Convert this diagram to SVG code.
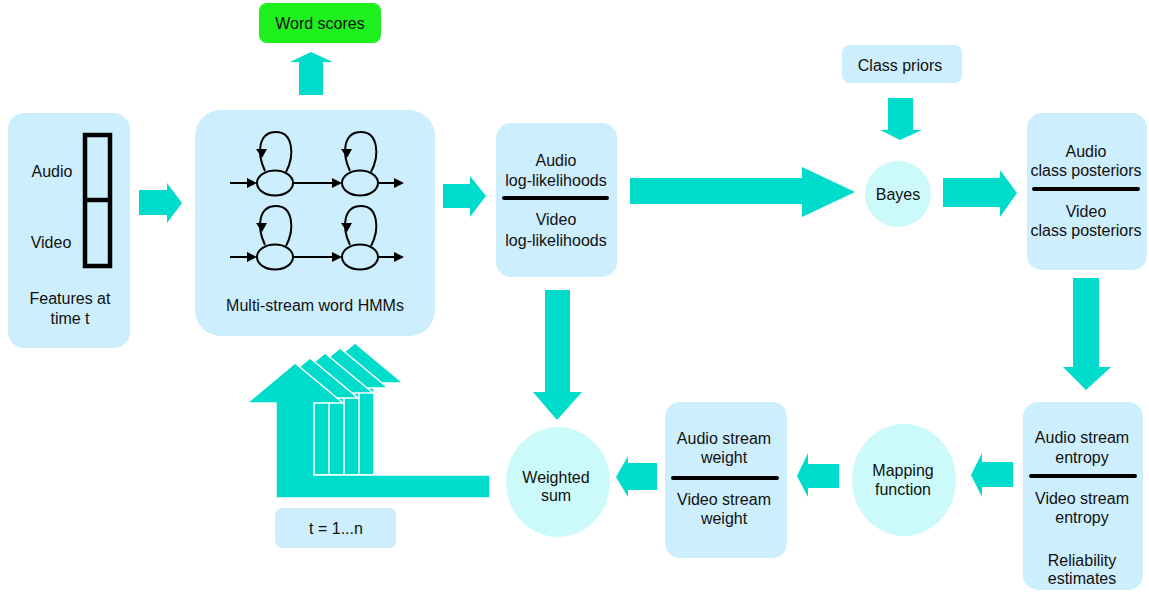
<svg xmlns="http://www.w3.org/2000/svg" width="1149" height="593" viewBox="0 0 1149 593">
<style>
.box{fill:#cdeefc}
.circ{fill:#ccfafa}
.arr{fill:#00dccb}
.t{font-family:"Liberation Sans",Arial,sans-serif;font-size:16px;fill:#111;text-anchor:middle;dominant-baseline:central}
.sep{stroke:#000;stroke-width:4;stroke-linecap:round}
.hmm{fill:none;stroke:#000;stroke-width:2}
.tip{fill:#000}
</style>
<rect width="1149" height="593" fill="#fff"/>

<g id="features">
<rect class="box" x="8" y="113" width="122" height="235" rx="16"/>
<rect x="85" y="135" width="25" height="131" fill="none" stroke="#000" stroke-width="4.5"/>
<line x1="85" y1="200" x2="110" y2="200" stroke="#000" stroke-width="4.5"/>
<text class="t" x="52" y="171">Audio</text>
<text class="t" x="51" y="242">Video</text>
<text class="t" x="70" y="298">Features at</text>
<text class="t" x="70" y="318">time t</text>
</g>

<g id="hmm">
<rect class="box" x="195" y="110" width="240" height="226" rx="26"/>
<g id="hmm-drawing">
<ellipse class="hmm" cx="275" cy="183" rx="18" ry="12.5"/>
<ellipse class="hmm" cx="360" cy="183" rx="18" ry="12.5"/>
<ellipse class="hmm" cx="275" cy="257" rx="18" ry="12.5"/>
<ellipse class="hmm" cx="360" cy="257" rx="18" ry="12.5"/>
<path class="hmm" d="M230 183H248M293 183H333M378 183H395M230 257H248M293 257H333M378 257H395"/>
<path class="tip" d="M257 183l-10 -5v10zM342 183l-10 -5v10zM404 183l-10 -5v10zM257 257l-10 -5v10zM342 257l-10 -5v10zM404 257l-10 -5v10z"/>
<path class="hmm" d="M265 171C256 152 259 132 276 132C293 132 295 155 286 172M350 171C341 152 344 132 361 132C378 132 380 155 371 172M265 245C256 226 259 206 276 206C293 206 295 229 286 246M350 245C341 226 344 206 361 206C378 206 380 229 371 246"/>
<path class="tip" d="M262 158l-6 -9h11zM347 158l-6 -9h11zM262 232l-6 -9h11zM347 232l-6 -9h11z"/>
</g>
<text class="t" x="315" y="305">Multi-stream word HMMs</text>
</g>

<g id="word-scores">
<rect x="259" y="3" width="122" height="40" rx="8" fill="#1ef01e"/>
<text class="t" x="320" y="23">Word scores</text>
</g>

<g id="loglik">
<rect class="box" x="496" y="123" width="121" height="154" rx="15"/>
<text class="t" x="556" y="160">Audio</text>
<text class="t" x="556" y="180">log-likelihoods</text>
<line class="sep" x1="504" y1="198" x2="607" y2="198"/>
<text class="t" x="556" y="219">Video</text>
<text class="t" x="556" y="240">log-likelihoods</text>
</g>

<g id="class-priors">
<rect class="box" x="842" y="45" width="120" height="38" rx="8"/>
<text class="t" x="900" y="65">Class priors</text>
</g>

<g id="bayes">
<ellipse class="circ" cx="898" cy="194" rx="33" ry="33"/>
<text class="t" x="898" y="194">Bayes</text>
</g>

<g id="posteriors">
<rect class="box" x="1027" y="113" width="120" height="157" rx="15"/>
<text class="t" x="1086" y="151">Audio</text>
<text class="t" x="1086" y="170">class posteriors</text>
<line class="sep" x1="1034" y1="189" x2="1138" y2="189"/>
<text class="t" x="1086" y="211">Video</text>
<text class="t" x="1086" y="230">class posteriors</text>
</g>

<g id="entropy">
<rect class="box" x="1023" y="402" width="120" height="188" rx="15"/>
<text class="t" x="1082" y="437">Audio stream</text>
<text class="t" x="1082" y="457">entropy</text>
<line class="sep" x1="1031" y1="476" x2="1135" y2="476"/>
<text class="t" x="1082" y="498">Video stream</text>
<text class="t" x="1082" y="517">entropy</text>
<text class="t" x="1082" y="560">Reliability</text>
<text class="t" x="1082" y="578">estimates</text>
</g>

<g id="mapping">
<ellipse class="circ" cx="904" cy="480" rx="52" ry="56"/>
<text class="t" x="903" y="470">Mapping</text>
<text class="t" x="903" y="489">function</text>
</g>

<g id="weights">
<rect class="box" x="665" y="402" width="122" height="156" rx="15"/>
<text class="t" x="724" y="438">Audio stream</text>
<text class="t" x="724" y="457">weight</text>
<line class="sep" x1="673" y1="478" x2="777" y2="478"/>
<text class="t" x="724" y="499">Video stream</text>
<text class="t" x="724" y="518">weight</text>
</g>

<g id="weighted-sum">
<ellipse class="circ" cx="558" cy="482" rx="52" ry="55"/>
<text class="t" x="556" y="477">Weighted</text>
<text class="t" x="556" y="495">sum</text>
</g>

<g id="t-range">
<rect class="box" x="275" y="508" width="121" height="40" rx="7"/>
<text class="t" x="336" y="528">t =  1...n</text>
</g>

<g id="connectors">
<polygon class="arr" points="139,190 167,190 167,183 182,203 167,223 167,215 139,215"/>
<polygon class="arr" points="299,95 299,62 290,62 311,52 333,62 323,62 323,95"/>
<polygon class="arr" points="443,184 470,184 470,176 486,196 470,217 470,208 443,208"/>
<polygon class="arr" points="630,178 802,178 802,167 855,192 802,217 802,204 630,204"/>
<polygon class="arr" points="888,98 913,98 913,130 922,130 900,140 880,130 888,130"/>
<polygon class="arr" points="943,178 1000,178 1000,170 1017,193 1000,217 1000,207 943,207"/>
<polygon class="arr" points="1073,278 1099,278 1099,367 1111,367 1086,390 1063,367 1073,367"/>
<polygon class="arr" points="1013,462 982,462 982,453 971,475 982,497 982,487 1013,487"/>
<polygon class="arr" points="839,464 808,464 808,453 797,476 808,497 808,488 839,488"/>
<polygon class="arr" points="657,463 628,463 628,456 616,477 628,497 628,490 657,490"/>
<polygon class="arr" points="545,290 570,290 570,392 582,392 557,420 533,392 545,392"/>
<g id="feedback" stroke="#fff" stroke-width="1.5" stroke-linejoin="miter">
<polygon class="arr" points="355,343 403,383 374,383 374,475 336,475 336,383 307,383"/>
<polygon class="arr" points="340,348 388,388 359,388 359,475 321,475 321,388 292,388"/>
<polygon class="arr" points="325,353 373,393 344,393 344,475 306,475 306,393 277,393"/>
<polygon class="arr" points="310,358 358,398 329,398 329,475 291,475 291,398 262,398"/>
<polygon class="arr" points="295,363 343,403 314,403 314,475 490,475 490,498 276,498 276,403 247,403"/>
</g>
</g>
</svg>
